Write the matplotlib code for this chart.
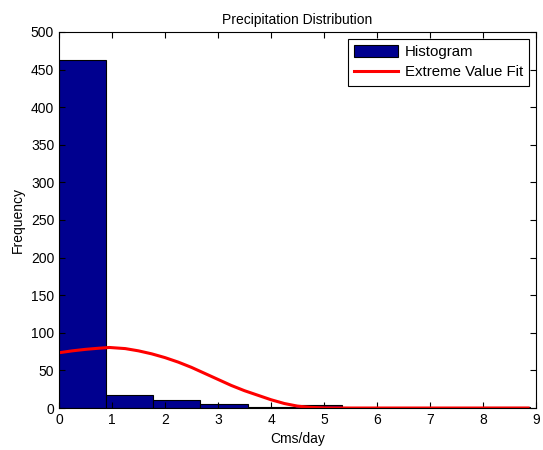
import matplotlib
matplotlib.use('Agg')
import matplotlib.pyplot as plt
import numpy as np

plt.rcParams['font.family'] = ['Liberation Sans', 'DejaVu Sans']

# histogram: 10 bins from 0 to ~8.89
bin_edges = np.linspace(0, 8.89, 11)
counts = [463, 17, 11, 6, 1, 4, 0, 0, 0, 2]

# extreme value fit curve
fit_x = [0, 0.25, 0.5, 0.75, 0.95, 1.25, 1.5, 1.75, 2.0, 2.25, 2.5, 2.75, 3.0,
         3.25, 3.5, 3.75, 4.0, 4.25, 4.5, 4.75, 5.0, 5.5, 6.0, 7.0, 8.0, 8.85]
fit_y = [73.5, 76, 78, 79.5, 80.5, 79, 76, 72, 67, 61, 54, 46, 38,
         30, 23, 17, 11, 6, 2.5, 0.8, 0.2, 0, 0, 0, 0, 0]

fig = plt.figure(figsize=(5.43, 4.5), dpi=100)
ax = fig.add_axes([0.1087, 0.0933, 0.8785, 0.8357])

widths = np.diff(bin_edges)
bars = ax.bar(bin_edges[:-1], counts, width=widths, align='edge', color='#00008F',
              edgecolor='black', linewidth=0.8, label='Histogram')
line, = ax.plot(fit_x, fit_y, color='red', linewidth=2.2, label='Extreme Value Fit')

ax.set_xlim(0, 9)
ax.set_ylim(0, 500)
ax.set_xticks(range(0, 10))
ax.set_yticks(range(0, 501, 50))
ax.tick_params(direction='in', top=True, right=True, labelsize=10, length=4)
ax.set_xlabel('Cms/day', fontsize=10)
ax.set_ylabel('Frequency', fontsize=10)
ax.set_title('Precipitation Distribution', fontsize=10)

leg = ax.legend([bars, line], ['Histogram', 'Extreme Value Fit'], loc='upper right',
                fancybox=False, framealpha=1, edgecolor='black', fontsize=10.8,
                borderaxespad=0.45, handlelength=2.95, handleheight=0.9,
                handletextpad=0.45, borderpad=0.4, labelspacing=0.4)
leg.get_frame().set_linewidth(0.8)

fig.savefig('out.png', dpi=100)
